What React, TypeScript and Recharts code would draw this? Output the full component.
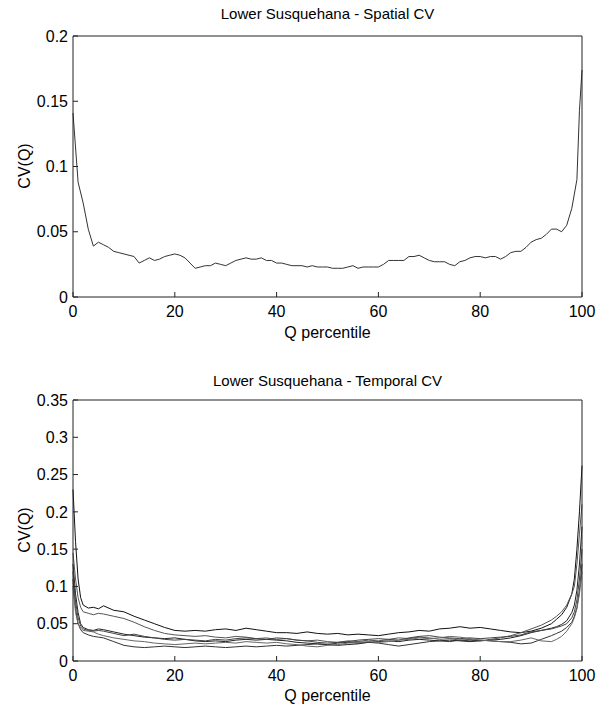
import React from 'react'
import { LineChart, Line, XAxis, YAxis } from 'recharts'

// top panel: spatial CV against Q percentile
const spatialPct = [
  0, 1, 2, 3, 4, 5, 6, 7, 8, 9, 10, 11, 12, 13, 14, 15, 16, 17, 18, 19,
  20, 21, 22, 23, 24, 25, 26, 27, 28, 29, 30, 31, 32, 33, 34, 35, 36, 37, 38, 39,
  40, 41, 42, 43, 44, 45, 46, 47, 48, 49, 50, 51, 52, 53, 54, 55, 56, 57, 58, 59,
  60, 61, 62, 63, 64, 65, 66, 67, 68, 69, 70, 71, 72, 73, 74, 75, 76, 77, 78, 79,
  80, 81, 82, 83, 84, 85, 86, 87, 88, 89, 90, 91, 92, 93, 94, 95, 96, 97, 98, 99,
  99.5, 100,
]
const spatialCv = [
  0.141, 0.088, 0.072, 0.052, 0.039, 0.042, 0.040, 0.038, 0.035, 0.034,
  0.033, 0.032, 0.031, 0.026, 0.028, 0.030, 0.028, 0.029, 0.031, 0.032,
  0.033, 0.032, 0.030, 0.026, 0.022, 0.023, 0.024, 0.024, 0.026, 0.025,
  0.024, 0.026, 0.028, 0.029, 0.030, 0.029, 0.029, 0.030, 0.028, 0.028,
  0.026, 0.026, 0.025, 0.024, 0.024, 0.024, 0.023, 0.024, 0.023, 0.023,
  0.023, 0.022, 0.022, 0.022, 0.023, 0.024, 0.022, 0.023, 0.023, 0.023,
  0.023, 0.025, 0.028, 0.028, 0.028, 0.028, 0.031, 0.031, 0.032, 0.030,
  0.028, 0.027, 0.027, 0.027, 0.025, 0.024, 0.027, 0.028, 0.030, 0.031,
  0.031, 0.030, 0.031, 0.031, 0.029, 0.031, 0.034, 0.035, 0.035, 0.038,
  0.042, 0.044, 0.045, 0.048, 0.052, 0.052, 0.050, 0.055, 0.068, 0.090,
  0.143, 0.174,
]

// bottom panel: temporal CV, one line per record
const temporalPct = [
  0, 0.5, 1, 1.5, 2, 3, 4, 5, 6, 8, 10, 12, 14, 16, 18, 20, 22, 24, 26, 28, 30,
  32, 34, 36, 38, 40, 42, 44, 46, 48, 50, 52, 54, 56, 58, 60, 62, 64, 66, 68, 70,
  72, 74, 76, 78, 80, 82, 84, 86, 88, 90, 92, 94, 95, 96, 97, 98, 98.5, 99, 99.5, 100,
]
const temporalCv1 = [
  0.23, 0.16, 0.11, 0.085, 0.075, 0.071, 0.072, 0.070, 0.074,
  0.068, 0.066, 0.060, 0.055, 0.050, 0.045, 0.041, 0.040, 0.041, 0.040, 0.042,
  0.043, 0.041, 0.044, 0.042, 0.040, 0.038, 0.038, 0.037, 0.039, 0.037,
  0.036, 0.037, 0.035, 0.036, 0.035, 0.034, 0.036, 0.038, 0.039, 0.041,
  0.040, 0.043, 0.044, 0.046, 0.044, 0.045, 0.043, 0.041, 0.039, 0.038, 0.040,
  0.044, 0.050, 0.056, 0.062, 0.072, 0.090, 0.11, 0.15, 0.20, 0.262,
]
const temporalCv2 = [
  0.145, 0.11, 0.085, 0.072, 0.066, 0.064, 0.062, 0.064, 0.063,
  0.060, 0.057, 0.052, 0.046, 0.041, 0.037, 0.035, 0.034, 0.033, 0.034, 0.032,
  0.031, 0.033, 0.032, 0.030, 0.031, 0.029, 0.030, 0.028, 0.027, 0.028,
  0.026, 0.025, 0.027, 0.026, 0.028, 0.027, 0.029, 0.031, 0.030, 0.032,
  0.031, 0.029, 0.030, 0.028, 0.029, 0.027, 0.029, 0.031, 0.034, 0.038, 0.043,
  0.048, 0.055, 0.060, 0.066, 0.075, 0.090, 0.10, 0.13, 0.17, 0.21,
]
const temporalCv3 = [
  0.13, 0.09, 0.065, 0.050, 0.045, 0.042, 0.041, 0.043, 0.042,
  0.039, 0.036, 0.034, 0.032, 0.031, 0.030, 0.031, 0.029, 0.027, 0.026, 0.027,
  0.026, 0.028, 0.029, 0.028, 0.029, 0.028, 0.027, 0.025, 0.024, 0.023,
  0.022, 0.021, 0.022, 0.023, 0.025, 0.026, 0.027, 0.026, 0.028, 0.029,
  0.028, 0.027, 0.028, 0.027, 0.026, 0.027, 0.028, 0.029, 0.031, 0.034, 0.038,
  0.041, 0.044, 0.046, 0.049, 0.054, 0.065, 0.075, 0.095, 0.13, 0.18,
]
const temporalCv4 = [
  0.12, 0.08, 0.058, 0.047, 0.043, 0.041, 0.040, 0.041, 0.040,
  0.037, 0.034, 0.036, 0.033, 0.031, 0.029, 0.028, 0.029, 0.028, 0.027, 0.029,
  0.028, 0.030, 0.031, 0.030, 0.029, 0.031, 0.030, 0.028, 0.027, 0.025,
  0.024, 0.025, 0.026, 0.028, 0.029, 0.030, 0.029, 0.028, 0.031, 0.033,
  0.034, 0.032, 0.031, 0.030, 0.031, 0.030, 0.031, 0.032, 0.033, 0.035, 0.039,
  0.041, 0.043, 0.045, 0.047, 0.050, 0.058, 0.066, 0.082, 0.11, 0.15,
]
const temporalCv5 = [
  0.11, 0.07, 0.050, 0.042, 0.038, 0.035, 0.033, 0.032, 0.031,
  0.026, 0.021, 0.019, 0.018, 0.019, 0.020, 0.019, 0.018, 0.019, 0.020, 0.019,
  0.018, 0.019, 0.020, 0.019, 0.020, 0.021, 0.020, 0.021, 0.022, 0.023,
  0.022, 0.024, 0.025, 0.024, 0.025, 0.024, 0.022, 0.020, 0.022, 0.024,
  0.026, 0.027, 0.026, 0.028, 0.027, 0.028, 0.027, 0.026, 0.025, 0.023, 0.024,
  0.029, 0.034, 0.037, 0.040, 0.045, 0.052, 0.060, 0.072, 0.095, 0.13,
]
const temporalCv6 = [
  0.10, 0.065, 0.050, 0.044, 0.041, 0.040, 0.039, 0.036, 0.034,
  0.031, 0.029, 0.027, 0.026, 0.024, 0.023, 0.022, 0.023, 0.024, 0.023, 0.024,
  0.025, 0.024, 0.026, 0.025, 0.024, 0.025, 0.023, 0.022, 0.020, 0.019,
  0.021, 0.022, 0.024, 0.025, 0.026, 0.025, 0.026, 0.028, 0.029, 0.031,
  0.030, 0.031, 0.033, 0.032, 0.030, 0.028, 0.027, 0.026, 0.026, 0.028, 0.031,
  0.027, 0.026, 0.029, 0.033, 0.040, 0.050, 0.058, 0.070, 0.090, 0.12,
]

const xTicks = [0, 20, 40, 60, 80, 100]
const spatialTicks = [0, 0.05, 0.1, 0.15, 0.2]
const temporalTicks = [0, 0.05, 0.1, 0.15, 0.2, 0.25, 0.3, 0.35]

const temporalSeries = [temporalCv1, temporalCv2, temporalCv3, temporalCv4, temporalCv5, temporalCv6]
const lineColors = ['#111', '#555', '#222', '#444', '#333', '#666']

const spatialRows = spatialPct.map((p, i) => ({ pct: p, cv: spatialCv[i] }))
const temporalRows = temporalPct.map((p, i) => {
  const row: Record<string, number> = { pct: p }
  temporalSeries.forEach((s, k) => { row['cv' + k] = s[i] })
  return row
})

const font = '"Liberation Sans", Arial, sans-serif'
const axisColor = '#222'
const tickStyle = { fill: '#000', fontSize: 16, fontFamily: font }

function Panel({ data, yTicks, yMax, height, top, children }: any) {
  return (
    <LineChart width={597} height={height} data={data} margin={{ top, right: 14, left: 0, bottom: 0 }}>
      <XAxis
        dataKey="pct" type="number" domain={[0, 100]} ticks={xTicks}
        stroke={axisColor} tick={tickStyle} tickSize={-5} tickMargin={14} height={height - top - 1 - 261}
        interval={0}
      />
      <XAxis
        xAxisId="top" orientation="top" type="number" domain={[0, 100]} ticks={xTicks}
        stroke={axisColor} tick={false} tickSize={-5} height={1}
      />
      <YAxis
        type="number" domain={[0, yMax]} ticks={yTicks} interval={0}
        stroke={axisColor} tick={tickStyle} tickSize={-5} tickMargin={10} width={73}
      />
      <YAxis
        yAxisId="right" orientation="right" type="number" domain={[0, yMax]} ticks={yTicks}
        stroke={axisColor} tick={false} tickSize={-5} width={1}
      />
      {children}
    </LineChart>
  )
}

const textBase: React.CSSProperties = {
  position: 'absolute', fontFamily: font, color: '#000', whiteSpace: 'nowrap',
}

export default function App() {
  return (
    <div style={{ position: 'fixed', left: 0, top: 0, width: 597, height: 707, background: '#fff' }}>
      <div style={{ position: 'absolute', left: 0, top: 0 }}>
        <Panel data={spatialRows} yTicks={spatialTicks} yMax={0.2} height={350} top={35}>
          <Line type="linear" dataKey="cv" stroke="#333" strokeWidth={1} dot={false} isAnimationActive={false} />
        </Panel>
      </div>
      <div style={{ position: 'absolute', left: 0, top: 350 }}>
        <Panel data={temporalRows} yTicks={temporalTicks} yMax={0.35} height={357} top={49}>
          {temporalSeries.map((_, k) => (
            <Line key={k} type="linear" dataKey={'cv' + k} stroke={lineColors[k]} strokeWidth={1} dot={false} isAnimationActive={false} />
          ))}
        </Panel>
      </div>

      <div style={{ ...textBase, left: 73, width: 509, top: 5, textAlign: 'center', fontSize: 15, lineHeight: '18px' }}>
        Lower Susquehana - Spatial CV
      </div>
      <div style={{ ...textBase, left: 73, width: 509, top: 372, textAlign: 'center', fontSize: 15, lineHeight: '18px' }}>
        Lower Susquehana - Temporal CV
      </div>

      <div style={{ ...textBase, left: 73, width: 509, top: 323, textAlign: 'center', fontSize: 16, lineHeight: '19px' }}>
        Q percentile
      </div>
      <div style={{ ...textBase, left: 73, width: 509, top: 686, textAlign: 'center', fontSize: 16, lineHeight: '19px' }}>
        Q percentile
      </div>

      <div style={{ ...textBase, left: 24, top: 166, fontSize: 16, lineHeight: '19px', transform: 'translate(-50%, -50%) rotate(-90deg)' }}>
        CV(Q)
      </div>
      <div style={{ ...textBase, left: 24, top: 530, fontSize: 16, lineHeight: '19px', transform: 'translate(-50%, -50%) rotate(-90deg)' }}>
        CV(Q)
      </div>
    </div>
  )
}
